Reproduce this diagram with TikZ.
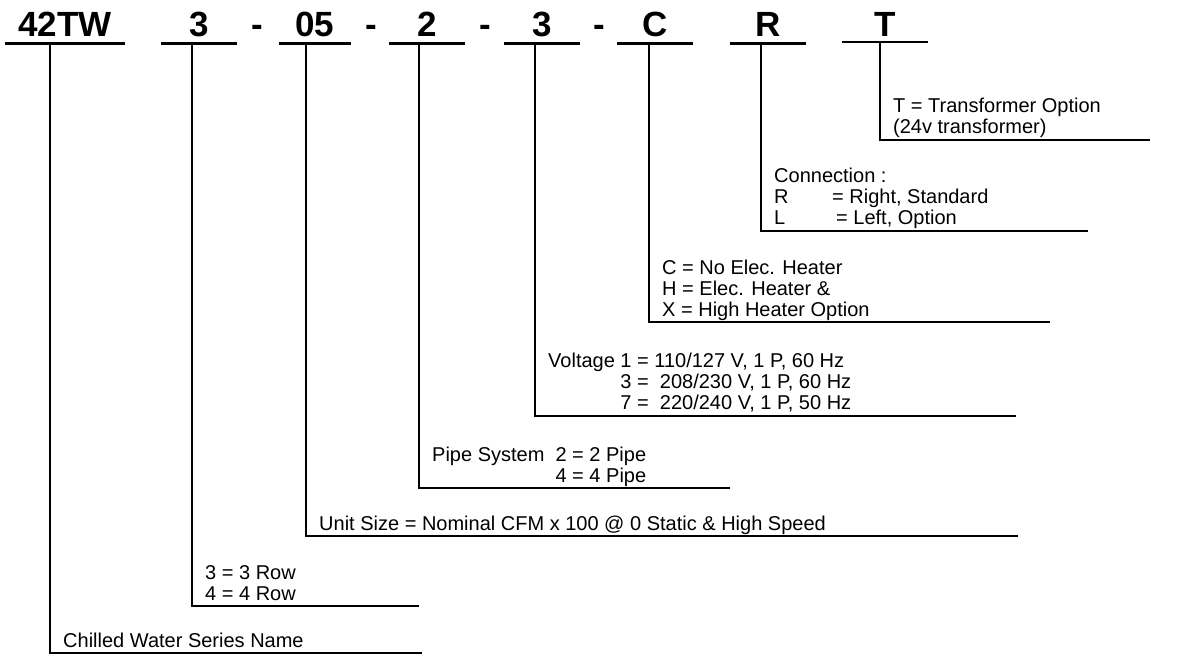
\documentclass[tikz,border=0pt]{standalone}
\usepackage{fontspec}
\setmainfont{Liberation Sans}
\usepackage{tikz}
\usetikzlibrary{positioning}

\tikzset{
  code/.style={font=\fontsize{35}{37}\selectfont\bfseries, anchor=base, inner xsep=0pt, inner ysep=7pt, text depth=0pt},
  uline/.style={line width=2.8pt},
  lead/.style={line width=1.8pt},
  desc/.style={font=\fontsize{20}{21}\selectfont, align=left, inner sep=0pt, text depth=0pt},
}

\begin{document}
\begin{tikzpicture}[x=1pt,y=-1pt]
    \useasboundingbox (0,0) rectangle (1188,656);

    % model code
    \node[code, minimum width=120pt] (k1) at (65,36) {42TW};
    \node[code, minimum width=76pt] (k2) at (199,36) {3};
    \node[code] (dash1) at (257,36) {-};
    \node[code, minimum width=71pt] (k3) at (315,36) {05};
    \node[code] (dash2) at (371,36) {-};
    \node[code, minimum width=75pt] (k4) at (427,36) {2};
    \node[code] (dash3) at (485,36) {-};
    \node[code, minimum width=76pt] (k5) at (542,36) {3};
    \node[code] (dash4) at (599,36) {-};
    \node[code, minimum width=75pt] (k6) at (655,36) {C};
    \node[code, minimum width=76pt] (k7) at (768,36) {R};
    \node[code, minimum width=86pt, inner ysep=6pt] (k8) at (885,36) {T};

    \draw[uline] (k1.south west) -- (k1.south east);
    \draw[uline] (k2.south west) -- (k2.south east);
    \draw[uline] (k3.south west) -- (k3.south east);
    \draw[uline] (k4.south west) -- (k4.south east);
    \draw[uline] (k5.south west) -- (k5.south east);
    \draw[uline] (k6.south west) -- (k6.south east);
    \draw[uline] (k7.south west) -- (k7.south east);
    \draw[lead] (k8.south west) -- (k8.south east);

    % leader start and end points
    \coordinate (t1) at (50,43);   \coordinate (e1) at (422,653);
    \coordinate (t2) at (192,43);  \coordinate (e2) at (419,606);
    \coordinate (t3) at (306,43);  \coordinate (e3) at (1018,536);
    \coordinate (t4) at (419,43);  \coordinate (e4) at (730,488);
    \coordinate (t5) at (535,43);  \coordinate (e5) at (1016,416);
    \coordinate (t6) at (649,43);  \coordinate (e6) at (1050,322);
    \coordinate (t7) at (761,43);  \coordinate (e7) at (1088,231);
    \coordinate (t8) at (880,42);  \coordinate (e8) at (1150,140);

    \coordinate (c1) at (t1 |- e1);
    \coordinate (c2) at (t2 |- e2);
    \coordinate (c3) at (t3 |- e3);
    \coordinate (c4) at (t4 |- e4);
    \coordinate (c5) at (t5 |- e5);
    \coordinate (c6) at (t6 |- e6);
    \coordinate (c7) at (t7 |- e7);
    \coordinate (c8) at (t8 |- e8);

    % leaders
    \draw[lead] (t1) |- (e1);
    \draw[lead] (t2) |- (e2);
    \draw[lead] (t3) |- (e3);
    \draw[lead] (t4) |- (e4);
    \draw[lead] (t5) |- (e5);
    \draw[lead] (t6) |- (e6);
    \draw[lead] (t7) |- (e7);
    \draw[lead] (t8) |- (e8);

    % descriptions
    \node[desc, above right=5pt and 13pt of c1] (d1) {Chilled Water Series Name};
    \node[desc, above right=5pt and 13pt of c2] (d2) {3 = 3 Row\\4 = 4 Row};
    \node[desc, above right=5pt and 13pt of c3] (d3) {Unit Size = Nominal CFM x 100 @ 0 Static \& High Speed};
    \node[desc, above right=5pt and 13pt of c4] (d4) {Pipe System\ \ 2 = 2 Pipe\\\hphantom{Pipe System\ \ }4 = 4 Pipe};
    \node[desc, above right=6pt and 13pt of c5] (d5) {Voltage 1 = 110/127 V, 1 P, 60 Hz\\\hphantom{Voltage }3 =\ \ 208/230 V, 1 P, 60 Hz\\\hphantom{Voltage }7 =\ \ 220/240 V, 1 P, 50 Hz};
    \node[desc, above right=5pt and 13pt of c6] (d6) {C = No Elec. Heater\\H = Elec. Heater \&\\X = High Heater Option};
    \node[desc, above right=6pt and 13pt of c7] (d7) {Connection :\\\makebox[58pt][l]{R}= Right, Standard\\\makebox[62pt][l]{L}= Left, Option};
    \node[desc, above right=6pt and 13pt of c8] (d8) {T = Transformer Option\\(24v transformer)};
\end{tikzpicture}
\end{document}
